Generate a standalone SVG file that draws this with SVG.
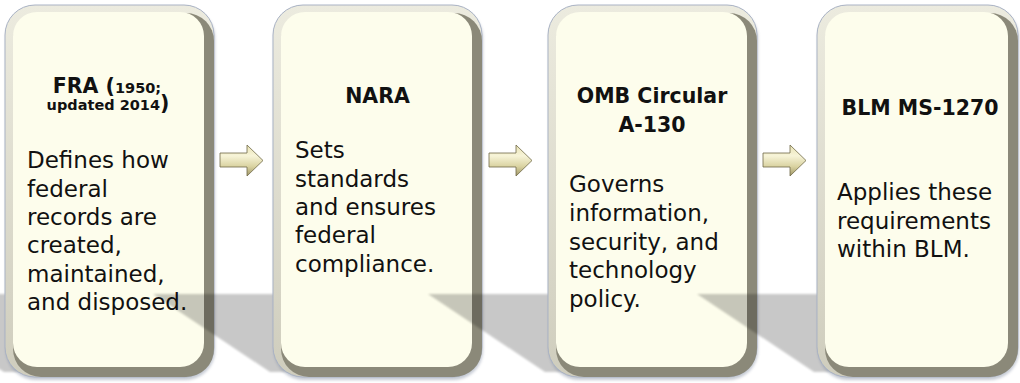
<svg xmlns="http://www.w3.org/2000/svg" width="1020" height="383" viewBox="0 0 1020 383">
<defs>
<style>
.edge{fill:url(#edgeG);stroke:#a9b2c4;stroke-width:1}
.dark{fill:#8b8979}
.cream{fill:#fdfdec}
.soft{fill:#7d889e;opacity:.45}
.shadow{fill:#000;opacity:.21}
.t{font-family:"DejaVu Sans",sans-serif;font-weight:bold;font-size:20.5px;fill:#111}
.s{font-size:14.5px}
.b{font-family:"DejaVu Sans",sans-serif;font-size:23px;fill:#111}
.arrow{fill:url(#arrG);stroke:#6f6846;stroke-width:.8}
</style>
<linearGradient id="edgeG" x1="0" y1="0" x2="0" y2="1">
<stop offset="0" stop-color="#ecebdf"/>
<stop offset="1" stop-color="#cfcdbd"/>
</linearGradient>
<linearGradient id="arrG" x1="0" y1="0" x2="0" y2="1">
<stop offset="0" stop-color="#e9e3b4"/>
<stop offset="0.35" stop-color="#f7f4d8"/>
<stop offset="0.7" stop-color="#d9d2a0"/>
<stop offset="1" stop-color="#9e9566"/>
</linearGradient>
<filter id="blur" x="-10%" y="-10%" width="120%" height="120%"><feGaussianBlur stdDeviation="1.5"/></filter>
<filter id="sblur" x="-10%" y="-10%" width="120%" height="120%"><feGaussianBlur stdDeviation="1"/></filter>
</defs>
<rect width="1020" height="383" fill="#ffffff"/>

<g id="node-fra">
<polygon class="shadow" filter="url(#sblur)" points="-115,294 100,294 100,372 4,372"/>
<rect class="soft" filter="url(#blur)" x="6" y="8" width="209" height="372" rx="30"/>
<rect class="edge" x="5" y="5" width="209" height="372" rx="30"/>
<rect class="dark" x="13" y="13" width="201" height="364" rx="28"/>
<rect class="cream" x="13" y="12" width="191" height="355" rx="24"/>
<text class="t" x="107" y="93" text-anchor="middle">FRA (<tspan class="s">1950;</tspan></text>
<text class="t" x="108" y="110" text-anchor="middle"><tspan class="s">updated 2014</tspan>)</text>
<text class="b"><tspan x="27" y="168">Defines how</tspan><tspan x="27" y="196.5">federal</tspan><tspan x="27" y="225">records are</tspan><tspan x="27" y="253">created,</tspan><tspan x="27" y="282">maintained,</tspan><tspan x="27" y="310">and disposed.</tspan></text>
</g>

<g id="node-nara">
<polygon class="shadow" filter="url(#sblur)" points="153,294 373,294 373,372 270,372"/>
<rect class="soft" filter="url(#blur)" x="274" y="8" width="209" height="372" rx="30"/>
<rect class="edge" x="273" y="5" width="209" height="372" rx="30"/>
<rect class="dark" x="281" y="13" width="201" height="364" rx="28"/>
<rect class="cream" x="281" y="12" width="191" height="355" rx="24"/>
<text class="t" x="377.5" y="103" text-anchor="middle">NARA</text>
<text class="b"><tspan x="295" y="158">Sets</tspan><tspan x="295" y="186.5">standards</tspan><tspan x="295" y="215">and ensures</tspan><tspan x="295" y="243">federal</tspan><tspan x="295" y="271.5">compliance.</tspan></text>
</g>

<g id="node-omb">
<polygon class="shadow" filter="url(#sblur)" points="428,294 648,294 648,372 545,372"/>
<rect class="soft" filter="url(#blur)" x="549" y="8" width="209" height="372" rx="30"/>
<rect class="edge" x="548" y="5" width="209" height="372" rx="30"/>
<rect class="dark" x="556" y="13" width="201" height="364" rx="28"/>
<rect class="cream" x="556" y="12" width="191" height="355" rx="24"/>
<text class="t" text-anchor="middle"><tspan x="652" y="103">OMB Circular</tspan><tspan x="652" y="132">A-130</tspan></text>
<text class="b"><tspan x="569" y="192">Governs</tspan><tspan x="569" y="221">information,</tspan><tspan x="569" y="249.5">security, and</tspan><tspan x="569" y="278">technology</tspan><tspan x="569" y="306.5">policy.</tspan></text>
</g>

<g id="node-blm">
<polygon class="shadow" filter="url(#sblur)" points="697,294 917,294 917,372 814,372"/>
<rect class="soft" filter="url(#blur)" x="818" y="8" width="201" height="372" rx="30"/>
<rect class="edge" x="817" y="5" width="201" height="372" rx="30"/>
<rect class="dark" x="825" y="13" width="193" height="364" rx="28"/>
<rect class="cream" x="825" y="12" width="183" height="355" rx="24"/>
<text class="t" x="920" y="115" text-anchor="middle">BLM MS-1270</text>
<text class="b"><tspan x="837" y="200">Applies these</tspan><tspan x="837" y="228.5">requirements</tspan><tspan x="837" y="257">within BLM.</tspan></text>
</g>

<g id="connectors">
<polygon class="arrow" points="220,153 247,153 247,145 263,160.5 247,176 247,167 220,167"/>
<polygon class="arrow" points="489,153 516,153 516,145 532,160.5 516,176 516,167 489,167"/>
<polygon class="arrow" points="763,153 790,153 790,145 806,160.5 790,176 790,167 763,167"/>
</g>
</svg>
